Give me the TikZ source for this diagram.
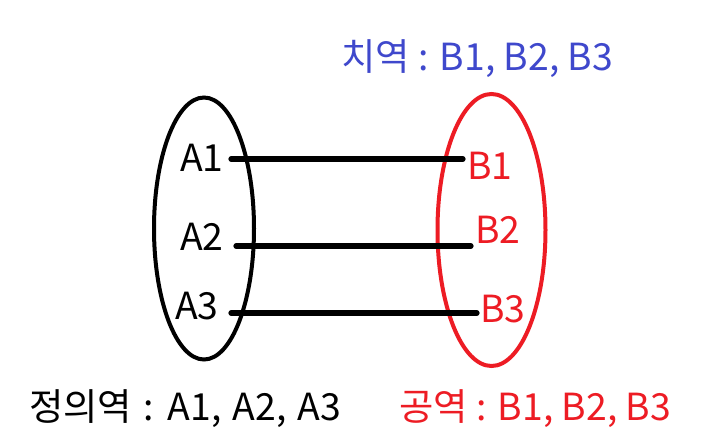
\documentclass[tikz,border=0pt]{standalone}
\usepackage{fontspec}
\setmainfont{Noto Sans CJK KR}
\definecolor{pblue}{HTML}{3F48CC}
\definecolor{pred}{HTML}{ED1C24}
\begin{document}
\begin{tikzpicture}[x=0.75pt,y=-0.75pt,
  lbl/.style={inner sep=0pt,font=\fontsize{28}{30}\selectfont},
  big/.style={inner sep=0pt,font=\fontsize{28}{30}\selectfont},
  link/.style={line width=3.9pt,line cap=round},
  set/.style={line width=3pt}]
\useasboundingbox (0,0) rectangle (701,440);
\draw[set] (204,228.5) ellipse [x radius=50, y radius=131];
\draw[set,pred] (491.5,230) ellipse [x radius=54, y radius=136];
\node[lbl] (a1) at (202,158) {A1};
\node[lbl] (a2) at (202,237) {A2};
\node[lbl] (a3) at (197,306) {A3};
\node[lbl,pred] (b1) at (490,166) {B1};
\node[lbl,pred] (b2) at (498,230) {B2};
\node[lbl,pred] (b3) at (503,309) {B3};
\coordinate (a1e) at (231,159); \coordinate (b1e) at (463,159);
\coordinate (a2e) at (236,246); \coordinate (b2e) at (471,246);
\coordinate (a3e) at (231,313); \coordinate (b3e) at (477,313);
\draw[link] (a1e) -- (b1e);
\draw[link] (a2e) -- (b2e);
\draw[link] (a3e) -- (b3e);
\node[big,pblue,anchor=west] (range) at (341,59) {치역 : B1, B2, B3};
\node[big,anchor=west] (dom) at (29,409) {\spaceskip=0.3em 정의역 : A1, A2, A3};
\node[big,pred,anchor=west] (cod) at (399,409) {공역 : B1, B2, B3};
\end{tikzpicture}
\end{document}
